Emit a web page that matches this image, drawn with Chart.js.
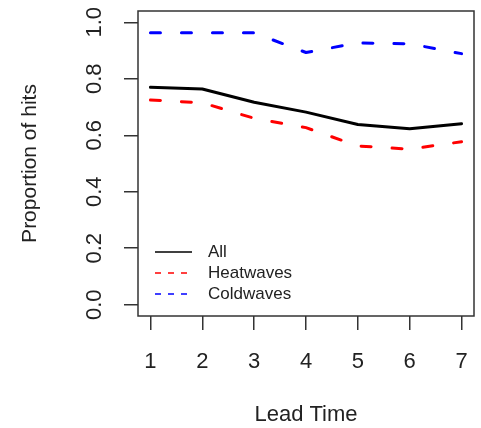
<!DOCTYPE html>
<html>
<head>
<meta charset="utf-8">
<script src="https://cdn.jsdelivr.net/npm/chart.js@4/dist/chart.umd.min.js"></script>
<style>
  html, body { margin: 0; padding: 0; background: #fff; }
  #wrap { width: 481px; height: 428px; }
</style>
</head>
<body>
<div id="wrap"><canvas id="chart"></canvas></div>
<script>
// data
const leadTime = [1, 2, 3, 4, 5, 6, 7];
const allHits  = [0.770, 0.764, 0.717, 0.682, 0.638, 0.623, 0.641];
const heatHits = [0.725, 0.715, 0.660, 0.627, 0.562, 0.551, 0.577];
const coldHits = [0.963, 0.963, 0.963, 0.893, 0.927, 0.924, 0.889];
const yTicks   = [0, 0.2, 0.4, 0.6, 0.8, 1.0];

const font = 'Liberation Sans, Arial, Helvetica, sans-serif';
const axisCol = '#333';

const pts = arr => arr.map((v, i) => ({ x: leadTime[i], y: v }));

// R-style box round the plot + legend in the lower left corner
const boxAndLegend = {
  id: 'boxAndLegend',
  afterDraw(chart) {
    const { ctx, chartArea: a } = chart;
    ctx.save();
    ctx.strokeStyle = axisCol;
    ctx.lineWidth = 1.5;
    ctx.strokeRect(a.left, a.top, a.right - a.left, a.bottom - a.top);

    const x0 = a.left + 17, x1 = a.left + 54;
    let y = 252;
    ctx.font = '17px ' + font;
    ctx.textBaseline = 'middle';
    chart.data.datasets.forEach(ds => {
      ctx.beginPath();
      ctx.strokeStyle = ds.borderColor;
      ctx.lineWidth = 1.5;
      ctx.setLineDash(ds.borderDash.length ? [6, 7] : []);
      ctx.moveTo(x0, y); ctx.lineTo(x1, y);
      ctx.stroke();
      ctx.setLineDash([]);
      ctx.fillStyle = '#222';
      ctx.fillText(ds.label, a.left + 70, y);
      y += 21;
    });
    ctx.restore();
  }
};

new Chart(document.getElementById('chart'), {
  type: 'line',
  data: {
    datasets: [
      { label: 'All',       data: pts(allHits),  borderColor: '#000000', borderDash: [] },
      { label: 'Heatwaves', data: pts(heatHits), borderColor: '#ff0000', borderDash: [10, 21] },
      { label: 'Coldwaves', data: pts(coldHits), borderColor: '#0000ff', borderDash: [10, 21] }
    ]
  },
  options: {
    responsive: true,
    maintainAspectRatio: false,
    animation: false,
    layout: { padding: { left: 0, top: 11, right: 7, bottom: 0 } },
    elements: {
      point: { radius: 0 },
      line: { borderWidth: 3, tension: 0, borderCapStyle: 'round', borderJoinStyle: 'round', fill: false }
    },
    plugins: { legend: { display: false }, tooltip: { enabled: false } },
    scales: {
      x: {
        type: 'linear',
        min: 0.76, max: 7.24,
        afterBuildTicks: s => { s.ticks = leadTime.map(v => ({ value: v })); },
        afterFit: s => { s.height = 112; s.paddingLeft = 0; s.paddingRight = 0; },
        grid: { drawOnChartArea: false, drawTicks: true, tickLength: 14, color: axisCol, lineWidth: 1.5 },
        border: { display: false },
        ticks: { padding: 19, color: '#222', font: { family: font, size: 22 }, maxRotation: 0 },
        title: { display: true, text: 'Lead Time', color: '#222', font: { family: font, size: 22 }, padding: { top: 0, bottom: 0 } }
      },
      y: {
        min: -0.04, max: 1.04,
        afterBuildTicks: s => { s.ticks = yTicks.map(v => ({ value: v })); },
        afterFit: s => { s.width = 138; s.paddingTop = 0; s.paddingBottom = 0; },
        grid: { drawOnChartArea: false, drawTicks: true, tickLength: 14, color: axisCol, lineWidth: 1.5 },
        border: { display: false },
        ticks: {
          padding: 14, color: '#222', font: { family: font, size: 22 },
          minRotation: 90, maxRotation: 90, crossAlign: 'center',
          callback: v => v.toFixed(1)
        },
        title: { display: true, text: 'Proportion of hits', color: '#222', font: { family: font, size: 21 }, padding: { top: 18, bottom: 0 } }
      }
    }
  },
  plugins: [boxAndLegend]
});
</script>
</body>
</html>
